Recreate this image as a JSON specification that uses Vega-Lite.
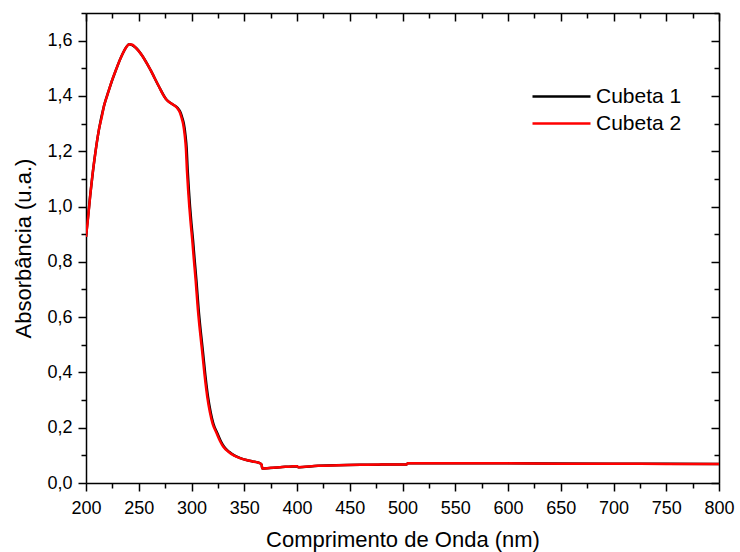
{
  "$schema": "https://vega.github.io/schema/vega-lite/v6.json",
  "width": 633,
  "height": 470,
  "autosize": {"type": "none"},
  "padding": {"left": 86, "top": 13, "right": 21, "bottom": 69},
  "background": "white",
  "config": {
    "font": "Liberation Sans",
    "view": {"stroke": null},
    "axis": {"grid": false, "domainColor": "black", "domainWidth": 1.5, "tickColor": "black", "tickWidth": 1.5, "labelColor": "black", "titleColor": "black", "labelFont": "Liberation Sans", "titleFont": "Liberation Sans", "titleFontWeight": "normal", "labelFontSize": 18, "titleFontSize": 22}
  },
  "data": {"values": [
    {"s":"Cubeta 1","x":200,"y":0.89},{"s":"Cubeta 1","x":204,"y":1.04},{"s":"Cubeta 1","x":208,"y":1.17},{"s":"Cubeta 1","x":212.3,"y":1.279},{"s":"Cubeta 1","x":217,"y":1.363},{"s":"Cubeta 1","x":222,"y":1.425},{"s":"Cubeta 1","x":228,"y":1.49},{"s":"Cubeta 1","x":234.4,"y":1.55},{"s":"Cubeta 1","x":241,"y":1.587},{"s":"Cubeta 1","x":247,"y":1.575},{"s":"Cubeta 1","x":253,"y":1.547},{"s":"Cubeta 1","x":261,"y":1.495},{"s":"Cubeta 1","x":269,"y":1.435},{"s":"Cubeta 1","x":276,"y":1.388},{"s":"Cubeta 1","x":282,"y":1.370},{"s":"Cubeta 1","x":286.5,"y":1.358},{"s":"Cubeta 1","x":289.6,"y":1.340},{"s":"Cubeta 1","x":291.2,"y":1.322},{"s":"Cubeta 1","x":292.7,"y":1.30},{"s":"Cubeta 1","x":294.2,"y":1.26},{"s":"Cubeta 1","x":295.4,"y":1.21},{"s":"Cubeta 1","x":296.4,"y":1.13},{"s":"Cubeta 1","x":297.5,"y":1.06},{"s":"Cubeta 1","x":298.6,"y":1.0},{"s":"Cubeta 1","x":299.9,"y":0.94},{"s":"Cubeta 1","x":301.4,"y":0.88},{"s":"Cubeta 1","x":302.9,"y":0.81},{"s":"Cubeta 1","x":304.7,"y":0.73},{"s":"Cubeta 1","x":306.7,"y":0.63},{"s":"Cubeta 1","x":308.7,"y":0.55},{"s":"Cubeta 1","x":310.7,"y":0.48},{"s":"Cubeta 1","x":313.4,"y":0.38},{"s":"Cubeta 1","x":315.7,"y":0.31},{"s":"Cubeta 1","x":318.2,"y":0.255},{"s":"Cubeta 1","x":320.7,"y":0.215},{"s":"Cubeta 1","x":324.5,"y":0.18},{"s":"Cubeta 1","x":327.7,"y":0.152},{"s":"Cubeta 1","x":330.7,"y":0.132},{"s":"Cubeta 1","x":335.6,"y":0.113},{"s":"Cubeta 1","x":340.5,"y":0.100},{"s":"Cubeta 1","x":346.3,"y":0.090},{"s":"Cubeta 1","x":352,"y":0.083},{"s":"Cubeta 1","x":358,"y":0.078},{"s":"Cubeta 1","x":363,"y":0.074},{"s":"Cubeta 1","x":365.5,"y":0.070},{"s":"Cubeta 1","x":366.5,"y":0.066},{"s":"Cubeta 1","x":367,"y":0.052},{"s":"Cubeta 1","x":384,"y":0.057},{"s":"Cubeta 1","x":400,"y":0.061},{"s":"Cubeta 1","x":401,"y":0.057},{"s":"Cubeta 1","x":420,"y":0.062},{"s":"Cubeta 1","x":460,"y":0.066},{"s":"Cubeta 1","x":504,"y":0.067},{"s":"Cubeta 1","x":505,"y":0.071},{"s":"Cubeta 1","x":600,"y":0.071},{"s":"Cubeta 1","x":700,"y":0.070},{"s":"Cubeta 1","x":800,"y":0.069},
    {"s":"Cubeta 2","x":200,"y":0.89},{"s":"Cubeta 2","x":202,"y":0.96},{"s":"Cubeta 2","x":204,"y":1.04},{"s":"Cubeta 2","x":206,"y":1.11},{"s":"Cubeta 2","x":208,"y":1.17},{"s":"Cubeta 2","x":210,"y":1.225},{"s":"Cubeta 2","x":212.3,"y":1.279},{"s":"Cubeta 2","x":215,"y":1.325},{"s":"Cubeta 2","x":217,"y":1.363},{"s":"Cubeta 2","x":220,"y":1.40},{"s":"Cubeta 2","x":222,"y":1.425},{"s":"Cubeta 2","x":225,"y":1.46},{"s":"Cubeta 2","x":228,"y":1.49},{"s":"Cubeta 2","x":231,"y":1.52},{"s":"Cubeta 2","x":234.4,"y":1.55},{"s":"Cubeta 2","x":238,"y":1.575},{"s":"Cubeta 2","x":241,"y":1.587},{"s":"Cubeta 2","x":244,"y":1.585},{"s":"Cubeta 2","x":247,"y":1.575},{"s":"Cubeta 2","x":250,"y":1.562},{"s":"Cubeta 2","x":253,"y":1.547},{"s":"Cubeta 2","x":257,"y":1.522},{"s":"Cubeta 2","x":261,"y":1.495},{"s":"Cubeta 2","x":265,"y":1.465},{"s":"Cubeta 2","x":269,"y":1.435},{"s":"Cubeta 2","x":273,"y":1.405},{"s":"Cubeta 2","x":276,"y":1.388},{"s":"Cubeta 2","x":279,"y":1.377},{"s":"Cubeta 2","x":282,"y":1.370},{"s":"Cubeta 2","x":286,"y":1.358},{"s":"Cubeta 2","x":289,"y":1.340},{"s":"Cubeta 2","x":290.5,"y":1.322},{"s":"Cubeta 2","x":292,"y":1.30},{"s":"Cubeta 2","x":293.5,"y":1.26},{"s":"Cubeta 2","x":294.7,"y":1.21},{"s":"Cubeta 2","x":295.7,"y":1.13},{"s":"Cubeta 2","x":296.8,"y":1.06},{"s":"Cubeta 2","x":297.9,"y":1.0},{"s":"Cubeta 2","x":299.2,"y":0.94},{"s":"Cubeta 2","x":300.7,"y":0.88},{"s":"Cubeta 2","x":302.2,"y":0.81},{"s":"Cubeta 2","x":304,"y":0.73},{"s":"Cubeta 2","x":306,"y":0.63},{"s":"Cubeta 2","x":308,"y":0.55},{"s":"Cubeta 2","x":310,"y":0.48},{"s":"Cubeta 2","x":312.7,"y":0.38},{"s":"Cubeta 2","x":315,"y":0.31},{"s":"Cubeta 2","x":317.5,"y":0.255},{"s":"Cubeta 2","x":320,"y":0.215},{"s":"Cubeta 2","x":323.8,"y":0.18},{"s":"Cubeta 2","x":327,"y":0.152},{"s":"Cubeta 2","x":330,"y":0.132},{"s":"Cubeta 2","x":335,"y":0.113},{"s":"Cubeta 2","x":340,"y":0.100},{"s":"Cubeta 2","x":346,"y":0.090},{"s":"Cubeta 2","x":352,"y":0.083},{"s":"Cubeta 2","x":358,"y":0.078},{"s":"Cubeta 2","x":363,"y":0.074},{"s":"Cubeta 2","x":365.5,"y":0.070},{"s":"Cubeta 2","x":366.5,"y":0.066},{"s":"Cubeta 2","x":367,"y":0.052},{"s":"Cubeta 2","x":375,"y":0.055},{"s":"Cubeta 2","x":384,"y":0.057},{"s":"Cubeta 2","x":395,"y":0.060},{"s":"Cubeta 2","x":400,"y":0.061},{"s":"Cubeta 2","x":401,"y":0.057},{"s":"Cubeta 2","x":405,"y":0.058},{"s":"Cubeta 2","x":420,"y":0.062},{"s":"Cubeta 2","x":440,"y":0.064},{"s":"Cubeta 2","x":460,"y":0.066},{"s":"Cubeta 2","x":480,"y":0.067},{"s":"Cubeta 2","x":504,"y":0.067},{"s":"Cubeta 2","x":505,"y":0.071},{"s":"Cubeta 2","x":550,"y":0.071},{"s":"Cubeta 2","x":600,"y":0.071},{"s":"Cubeta 2","x":650,"y":0.070},{"s":"Cubeta 2","x":700,"y":0.070},{"s":"Cubeta 2","x":750,"y":0.069},{"s":"Cubeta 2","x":800,"y":0.069}
  ]},
  "resolve": {"axis": {"x": "independent", "y": "independent"}},
  "layer": [
    {
      "mark": {"type": "line", "strokeWidth": 2.5, "clip": true, "interpolate": "monotone"},
      "encoding": {
        "x": {"field": "x", "type": "quantitative", "scale": {"domain": [200, 800], "nice": false, "zero": false},
          "axis": {"orient": "bottom", "title": "Comprimento de Onda (nm)", "values": [200,250,300,350,400,450,500,550,600,650,700,750,800], "tickSize": 8, "labelPadding": 8, "titlePadding": 12, "labelFlush": false, "labelOverlap": false}},
        "y": {"field": "y", "type": "quantitative", "scale": {"domain": [0, 1.7], "nice": false, "zero": false},
          "axis": {"orient": "left", "title": "Absorbância (u.a.)", "values": [0,0.2,0.4,0.6,0.8,1.0,1.2,1.4,1.6], "tickSize": 8, "labelPadding": 6, "titlePadding": 11, "labelExpr": "replace(format(datum.value, '.1f'), '.', ',')", "labelFlush": false, "labelOverlap": false}},
        "color": {"field": "s", "type": "nominal", "scale": {"domain": ["Cubeta 1", "Cubeta 2"], "range": ["black", "#ff0000"]},
          "legend": {"title": null, "orient": "none", "legendX": 464, "legendY": 72, "symbolType": "M-2.9,0H2.9", "symbolSize": 400, "symbolStrokeWidth": 2.5, "labelFontSize": 21, "labelFont": "Liberation Sans", "labelColor": "black", "labelOffset": 23, "rowPadding": 5, "padding": 0}}
      }
    },
    {
      "mark": {"type": "line", "opacity": 0},
      "encoding": {
        "x": {"field": "x", "type": "quantitative", "axis": {"orient": "bottom", "title": null, "labels": false, "domain": false, "values": [225,275,325,375,425,475,525,575,625,675,725,775], "tickSize": 5}},
        "y": {"field": "y", "type": "quantitative", "axis": {"orient": "left", "title": null, "labels": false, "domain": false, "values": [0.1,0.3,0.5,0.7,0.9,1.1,1.3,1.5,1.7], "tickSize": 5}},
        "detail": {"field": "s"}
      }
    },
    {
      "mark": {"type": "line", "opacity": 0},
      "encoding": {
        "x": {"field": "x", "type": "quantitative", "axis": {"orient": "top", "title": null, "labels": false, "values": [200,250,300,350,400,450,500,550,600,650,700,750,800], "tickSize": -8}},
        "y": {"field": "y", "type": "quantitative", "axis": {"orient": "right", "title": null, "labels": false, "values": [0,0.2,0.4,0.6,0.8,1.0,1.2,1.4,1.6], "tickSize": -8}},
        "detail": {"field": "s"}
      }
    },
    {
      "mark": {"type": "line", "opacity": 0},
      "encoding": {
        "x": {"field": "x", "type": "quantitative", "axis": {"orient": "top", "title": null, "labels": false, "domain": false, "values": [225,275,325,375,425,475,525,575,625,675,725,775], "tickSize": -5}},
        "y": {"field": "y", "type": "quantitative", "axis": {"orient": "right", "title": null, "labels": false, "domain": false, "values": [0.1,0.3,0.5,0.7,0.9,1.1,1.3,1.5,1.7], "tickSize": -5}},
        "detail": {"field": "s"}
      }
    }
  ]
}
